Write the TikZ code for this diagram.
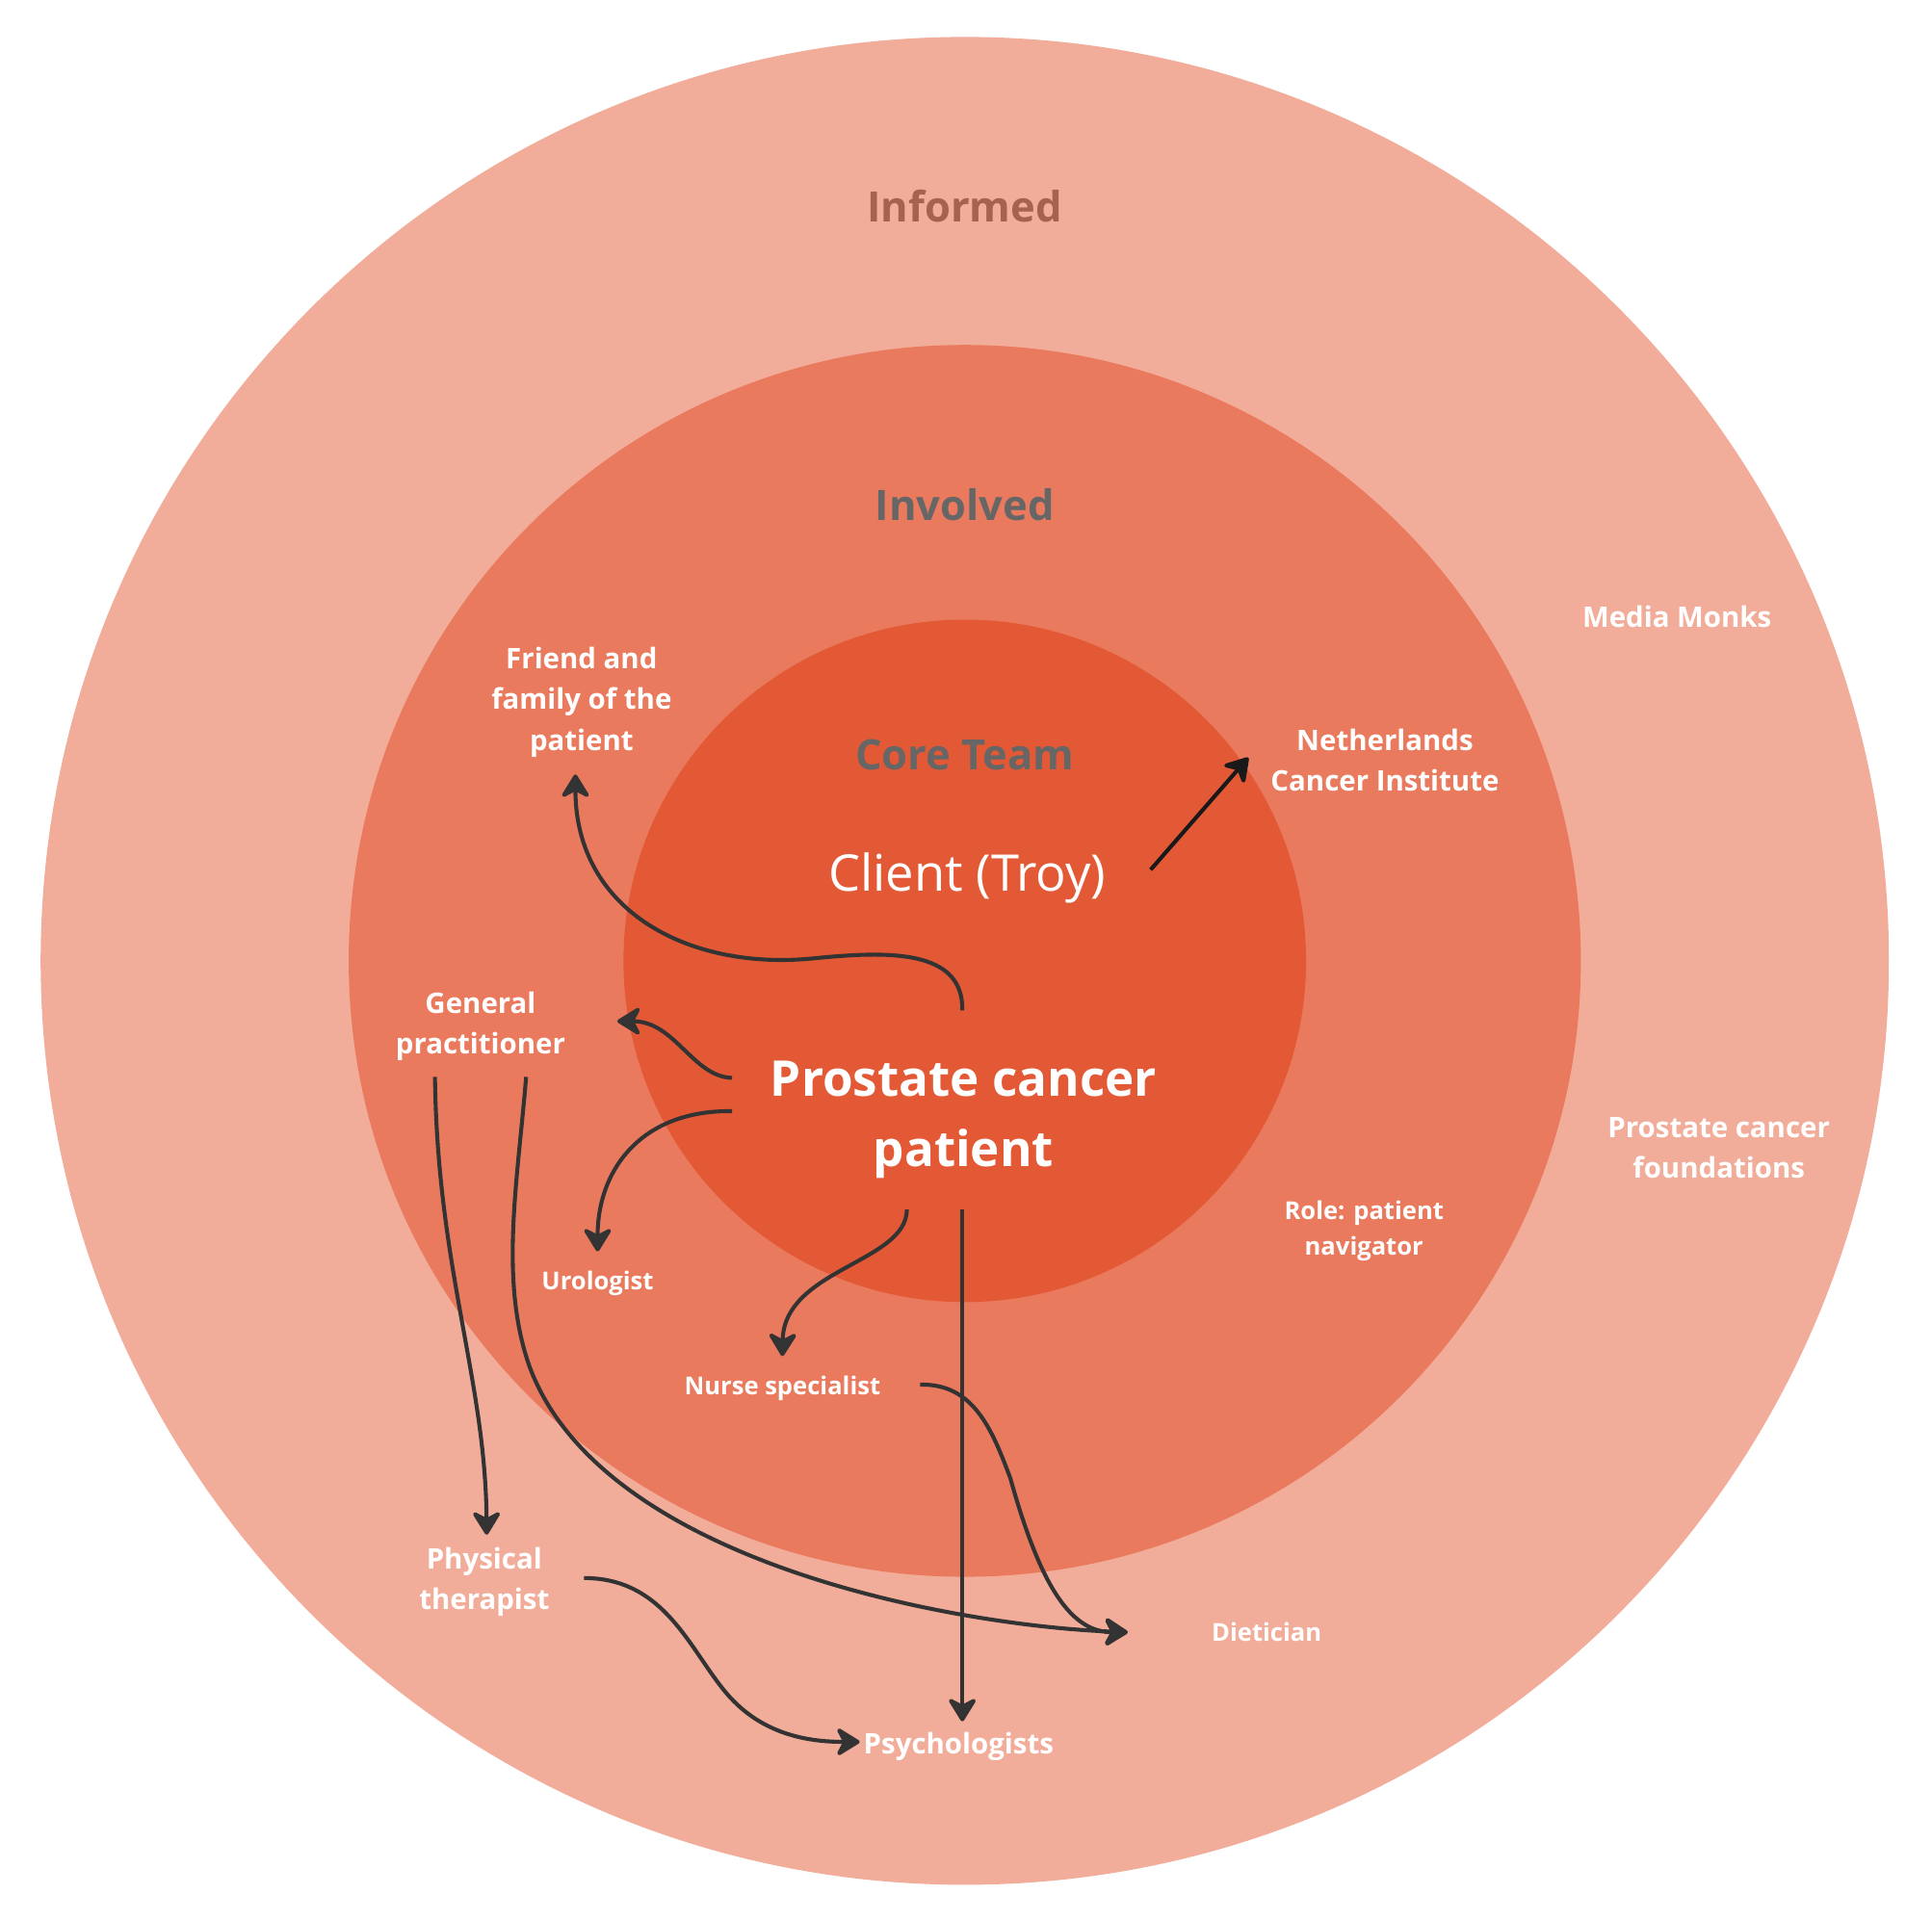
\documentclass[tikz,border=0pt]{standalone}
\usepackage{fontspec}
\setmainfont{Open Sans}
\usetikzlibrary{arrows.meta}
\definecolor{informedfill}{HTML}{F2AC9A}
\definecolor{involvedfill}{HTML}{EA7A5E}
\definecolor{corefill}{HTML}{E35935}
\definecolor{informedtext}{HTML}{A8604F}
\definecolor{headgray}{HTML}{666666}
\definecolor{arrowgray}{HTML}{333333}
\tikzset{
  ringhead/.style={font=\bfseries\fontsize{34}{40}\selectfont, inner sep=0pt},
  who/.style={text=white, font=\bfseries\fontsize{23}{33}\selectfont, align=center, inner sep=0pt},
  whosmall/.style={who, font=\bfseries\fontsize{20}{29}\selectfont},
  flow/.style={draw=arrowgray, line width=3.2pt,
    -{Stealth[length=22pt, width=27pt, inset=7pt, round]}},
}
\begin{document}
\begin{tikzpicture}[x=1pt, y=-1pt]
  \fill[white] (0,0) rectangle (1568,1558);
  \useasboundingbox (0,0) rectangle (1568,1558);
  % the three rings
  \fill[informedfill] (783,780) circle[radius=750];
  \fill[involvedfill] (783,780) circle[radius=500];
  \fill[corefill] (783,780) circle[radius=277];
  \node[ringhead, text=informedtext] (informed) at (783,167) {Informed};
  \node[ringhead, text=headgray] (involved) at (783,410) {Involved};
  \node[ringhead, text=headgray] (core) at (783,613) {Core Team};
  % core team
  \node[text=white, inner sep=0pt, font=\fontsize{41}{48}\selectfont]
    (client) at (785,713) {Client (Troy)};
  \node[who, font=\bfseries\fontsize{40}{57}\selectfont]
    (patient) at (782,909) {Prostate cancer\\patient};
  % involved
  \node[who] (friends) at (472,570) {Friend and\\family of the\\patient};
  \node[who] (nki) at (1124,617) {Netherlands\\Cancer Institute};
  \node[who] (gp) at (390,833) {General\\practitioner};
  \node[whosmall] (navigator) at (1107,999) {Role: patient\\navigator};
  \node[whosmall] (urologist) at (485,1042) {Urologist};
  \node[whosmall] (nurse) at (635,1127) {Nurse specialist};
  % informed
  \node[who] (media) at (1361,501) {Media Monks};
  \node[who] (foundations) at (1395,932) {Prostate cancer\\foundations};
  \node[who] (physio) at (393,1284) {Physical\\therapist};
  \node[whosmall] (dietician) at (1028,1325) {Dietician};
  \node[who] (psych) at (778,1418) {Psychologists};
  % who talks to whom
  \draw[flow] ([shift={(-1,-41)}]patient.north) .. controls (782,770) and (720,772)
    .. (660,778) .. controls (560,788) and (467,740) .. ([shift={(-5,14)}]friends.south);
  \draw[flow] ([shift={(-31,-34)}]patient.west) .. controls (562,874) and (548,829)
    .. ([shift={(42,-4)}]gp.east);
  \draw[flow] ([shift={(-31,-7)}]patient.west) .. controls (520,901) and (485,950)
    .. ([shift={(0,-16)}]urologist.north);
  \draw[flow] ([shift={(-46,25)}]patient.south) .. controls (736,1025) and (636,1030)
    .. ([shift={(0,-16)}]nurse.north);
  \draw[flow] ([shift={(-1,25)}]patient.south) -- ([shift={(3,-9)}]psych.north);
  \draw[flow, draw=black!90] ([shift={(36,-7)}]client.east) -- ([shift={(-18,-2)}]nki.west);
  \draw[flow] ([shift={(-37,13)}]gp.south) .. controls (355,1030) and (394,1120)
    .. ([shift={(2,-10)}]physio.north);
  \draw[flow] ([shift={(37,13)}]gp.south) .. controls (420,960) and (405,1040)
    .. (430,1110) .. controls (490,1270) and (780,1320) .. ([shift={(-68,0)}]dietician.west);
  \draw[flow] ([shift={(32,-3)}]nurse.east) .. controls (790,1123) and (805,1160)
    .. (820,1200) .. controls (845,1290) and (870,1325) .. ([shift={(-68,0)}]dietician.west);
  \draw[flow] ([shift={(28,-3)}]physio.east) .. controls (540,1281) and (560,1340)
    .. (590,1375) .. controls (620,1410) and (660,1414) .. ([shift={(-3,-4)}]psych.west);
\end{tikzpicture}
\end{document}
